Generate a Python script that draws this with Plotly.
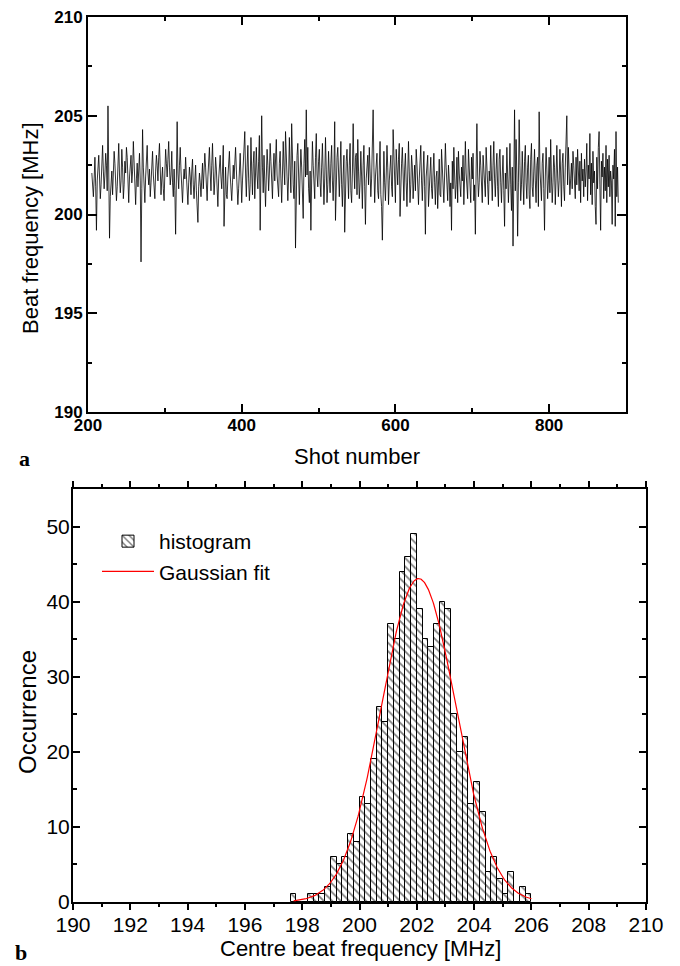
import numpy as np
import plotly.graph_objects as go

# ---------------- data: panel a (time series) ----------------
shot_start = 205
beat_freq = [
    202.1, 201.6, 200.9, 201.8, 202.9, 201.4, 199.2, 201.7, 202.4, 203.0, 201.9, 200.8, 201.5, 202.6, 203.5, 202.2, 201.3, 202.0, 203.1, 202.5,
    201.2, 205.5, 202.3, 198.8, 200.9, 201.6, 202.2, 201.0, 201.8, 203.2, 202.6, 201.9, 200.7, 201.4, 202.8, 203.6, 202.0, 201.1, 201.7, 203.3,
    202.4, 200.8, 201.5, 202.7, 202.1, 203.4, 202.9, 201.3, 200.6, 201.9, 202.5, 203.0, 201.6, 202.2, 203.7, 202.8, 201.2, 200.5, 201.8, 202.6,
    201.4, 202.0, 203.1, 201.7, 197.6, 201.3, 204.3, 202.4, 201.1, 200.6, 201.9, 202.8, 203.5, 202.1, 201.5, 202.3, 200.9, 201.6, 202.9, 203.2,
    202.0, 201.4, 200.8, 202.2, 203.0, 202.5, 201.7, 202.9, 203.6, 202.3, 201.0, 201.8, 202.4, 201.3, 200.7, 202.1, 203.3, 202.6, 201.9, 202.8,
    203.7, 202.4, 201.5, 202.0, 203.2, 201.6, 200.9, 202.3, 201.2, 199.0, 201.8, 204.7, 202.1, 201.3, 202.5, 203.4, 202.2, 201.4, 200.6, 201.7,
    202.3, 201.8, 202.9, 202.0, 201.1, 200.5, 201.6, 202.4, 201.9, 201.0, 202.2, 202.8, 201.5, 200.8, 201.7, 202.5, 201.2, 200.4, 199.6, 201.4,
    202.1, 201.6, 200.9, 201.8, 202.6, 201.3, 202.0, 203.1, 202.4, 201.5, 200.7, 201.9, 202.7, 203.4, 202.1, 201.2, 202.5, 203.6, 202.2, 201.0,
    201.7, 202.9, 202.3, 201.1, 200.4, 201.8, 202.6, 203.0, 201.9, 201.3, 202.2, 203.5, 199.4, 201.5, 202.4, 201.0, 200.8, 201.9, 202.7, 203.2,
    202.0, 201.4, 200.7, 201.6, 202.5, 201.8, 202.9, 203.4, 202.3, 201.1, 200.5, 201.3, 202.8, 203.1, 201.9, 200.6, 201.7, 202.6, 203.0, 204.2,
    202.1, 200.9, 202.4, 203.5, 201.8, 200.7, 201.5, 203.9, 202.2, 201.0, 202.6, 203.2, 200.8, 201.9, 203.4, 202.0, 201.3, 202.7, 204.0, 199.2,
    202.2, 205.0, 202.4, 201.1, 203.0, 201.6, 200.4, 201.9, 203.3, 202.5, 201.2, 202.1, 203.6, 202.7, 201.4, 200.8, 202.3, 203.1, 201.7, 202.5,
    203.8, 202.0, 201.3, 200.9, 202.6, 203.2, 201.8, 200.6, 202.0, 203.7, 202.4, 201.5, 204.2, 202.8, 201.6, 200.7, 201.9, 203.9, 202.3, 201.1,
    204.6, 202.2, 201.5, 200.8, 202.7, 198.3, 201.9, 203.0, 203.6, 201.7, 200.5, 202.1, 203.3, 202.4, 201.2, 199.8, 202.6, 203.8, 201.9, 205.3,
    202.0, 203.4, 201.3, 200.6, 202.2, 199.2, 201.8, 203.7, 202.5, 201.0, 200.8, 202.9, 204.1, 202.0, 201.4, 202.7, 203.3, 201.6, 200.9, 202.4,
    203.6, 202.1, 200.5, 201.8, 203.9, 202.3, 200.6, 201.5, 203.2, 202.0, 201.1, 202.6, 203.5, 201.7, 200.7, 202.2, 204.7, 199.7, 201.6, 202.9,
    203.4, 201.8, 200.9, 202.3, 203.7, 201.5, 200.4, 202.0, 203.0, 199.1, 201.4, 202.7, 203.3, 201.9, 200.8, 202.5, 203.6, 201.2, 200.6, 202.1,
    204.6, 202.4, 201.3, 202.9, 203.1, 201.0, 203.8, 202.2, 200.8, 201.6, 203.2, 201.9, 200.3, 202.5, 203.5, 201.4, 199.5, 201.8, 202.6, 203.0,
    201.5, 203.4, 202.2, 200.9, 201.8, 203.6, 205.3, 202.4, 200.6, 201.9, 202.8, 203.1, 201.2, 200.8, 202.3, 203.7, 201.0, 200.4, 198.7, 202.6,
    203.2, 201.6, 200.7, 202.0, 203.5, 202.4, 200.5, 201.7, 202.9, 203.0, 201.4, 200.9, 204.3, 202.5, 201.8, 200.6, 203.3, 202.1, 201.5, 202.8,
    203.6, 199.9, 201.9, 202.6, 203.4, 201.1, 200.7, 202.3, 203.1, 201.6, 200.4, 202.0, 203.7, 202.2, 200.6, 201.5, 203.0, 202.4, 200.8, 201.7,
    202.5, 201.2, 203.3, 202.6, 201.0, 200.5, 201.8, 202.9, 203.5, 201.7, 200.7, 202.1, 203.2, 201.4, 199.0, 201.9, 202.7, 203.0, 200.4, 201.6,
    202.3, 202.9, 201.3, 200.8, 202.1, 203.1, 201.6, 200.5, 201.9, 202.2, 200.3, 201.7, 202.8, 201.0, 200.9, 203.3, 202.4, 201.2, 200.6, 202.0,
    203.6, 202.4, 201.1, 200.7, 202.5, 201.8, 200.4, 201.6, 199.2, 202.7, 201.3, 203.4, 202.0, 200.8, 201.5, 202.9, 200.6, 203.2, 202.1, 201.4,
    200.9, 202.4, 201.7, 203.0, 200.5, 201.9, 203.7, 202.1, 201.2, 200.8, 203.3, 202.5, 201.4, 200.6, 202.9, 201.8, 203.1, 200.7, 201.5, 199.0,
    202.3, 204.6, 202.0, 200.9, 201.6, 203.2, 202.5, 201.1, 200.6, 203.0, 202.2, 201.3, 200.9, 203.4, 202.7, 201.5, 200.5, 202.2, 201.7, 203.5,
    201.9, 200.7, 202.5, 203.7, 201.8, 200.9, 202.3, 203.1, 201.4, 200.4, 202.8, 203.3, 201.6, 200.6, 202.0, 203.0, 201.2, 199.4, 202.1, 201.3,
    203.4, 202.2, 200.6, 201.9, 203.6, 201.5, 200.2, 202.4, 198.4, 201.7, 205.3, 201.2, 203.8, 202.0, 198.9, 201.6, 204.8, 202.5, 200.7, 201.5,
    203.2, 201.8, 200.5, 202.7, 203.5, 201.6, 200.8, 202.4, 203.0, 201.0, 200.3, 202.8, 203.6, 201.4, 200.9, 202.2, 203.3, 201.7, 200.6, 202.5,
    202.9, 200.4, 205.2, 202.3, 201.1, 200.7, 202.6, 203.1, 201.3, 199.2, 201.9, 203.4, 202.3, 200.8, 201.7, 202.9, 201.1, 203.8, 201.9, 200.6,
    201.6, 203.0, 202.4, 200.5, 201.8, 203.5, 202.0, 200.9, 201.7, 203.3, 202.1, 200.4, 202.6, 203.1, 201.4, 200.7, 202.4, 203.7, 205.0, 201.5,
    203.4, 202.2, 201.0, 201.8, 202.6, 201.3, 203.2, 202.5, 201.9, 200.8, 202.9, 201.5, 203.3, 202.0, 201.2, 202.7, 200.6, 203.1, 201.7, 202.3,
    200.9, 202.8, 201.4, 202.2, 203.6, 200.7, 202.5, 201.8, 204.1, 201.0, 202.6, 200.5, 203.2, 201.6, 202.2, 200.4, 199.5, 202.9, 201.3, 203.4,
    204.2, 201.5, 199.2, 202.7, 201.9, 203.1, 200.8, 202.4, 201.2, 203.5, 200.6, 202.8, 201.4, 203.0, 200.9, 202.2, 201.7, 199.5, 202.5, 201.8,
    203.3, 199.4, 204.2, 200.9, 202.4, 200.6,
]
shot_number = [shot_start + i for i in range(len(beat_freq))]

# ---------------- data: panel b (histogram) ----------------
hist_bin_left = [
    197.6, 197.8, 198.0, 198.2, 198.4, 198.6, 198.8, 199.0, 199.2, 199.4,
    199.6, 199.8, 200.0, 200.2, 200.4, 200.6, 200.8, 201.0, 201.2, 201.4,
    201.6, 201.8, 202.0, 202.2, 202.4, 202.6, 202.8, 203.0, 203.2, 203.4,
    203.6, 203.8, 204.0, 204.2, 204.4, 204.6, 204.8, 205.0, 205.2, 205.4,
    205.6, 205.8,
]
hist_counts = [
    1, 0, 0, 1, 1, 1, 2, 6, 5, 6,
    9, 8, 14, 13, 19, 26, 24, 37, 35, 44,
    46, 49, 39, 35, 34, 37, 40, 39, 25, 20,
    22, 13, 16, 12, 4, 6, 3, 1, 4, 0,
    2, 1,
]
hist_bin_width = 0.2
fit_x_range = [197.7, 206.0]

# ---------------- derived: Gaussian fitted to the histogram ----------------
centres = np.array(hist_bin_left) + hist_bin_width / 2
counts = np.array(hist_counts, dtype=float)
n_tot = counts.sum()
mu = (centres * counts).sum() / n_tot
sigma = np.sqrt(((centres - mu) ** 2 * counts).sum() / n_tot)
amp = n_tot * hist_bin_width / (sigma * np.sqrt(2 * np.pi))
fit_x = np.linspace(fit_x_range[0], fit_x_range[1], 400)
fit_y = amp * np.exp(-0.5 * ((fit_x - mu) / sigma) ** 2)

# ---------------- figure ----------------
W, H = 680, 966
SANS = "Liberation Sans, Arial, sans-serif"
SERIF = "Liberation Serif, Times New Roman, serif"

fig = go.Figure()
fig.add_trace(go.Scatter(
    x=shot_number, y=beat_freq, mode="lines",
    line=dict(color="black", width=0.8), showlegend=False,
    xaxis="x", yaxis="y",
))
fig.add_trace(go.Bar(
    x=centres, y=hist_counts, width=hist_bin_width, name="histogram",
    marker=dict(color="white", line=dict(color="black", width=1),
                pattern=dict(shape="\\", fgcolor="black", bgcolor="white",
                             size=6, solidity=0.3)),
    xaxis="x2", yaxis="y2",
))
fig.add_trace(go.Scatter(
    x=fit_x, y=fit_y, mode="lines", name="Gaussian fit",
    line=dict(color="#ff0000", width=1.2), xaxis="x2", yaxis="y2",
))


def px_x(a, b):
    return [a / W, b / W]


def px_y(top, bottom):
    return [1 - bottom / H, 1 - top / H]


def ann(text, x, y, size, angle=0, family=SANS):
    return dict(text=text, x=x / W, y=1 - y / H, xref="paper", yref="paper",
                xanchor="center", yanchor="middle", showarrow=False,
                textangle=angle, font=dict(family=family, size=size, color="black"))


axis_common = dict(showline=True, linecolor="black", linewidth=2, mirror="allticks",
                   showgrid=False, zeroline=False, automargin=False,
                   tickcolor="black", tickwidth=1.5)

fig.update_layout(
    width=W, height=H, plot_bgcolor="white", paper_bgcolor="white",
    margin=dict(l=0, r=0, t=0, b=0), bargap=0,
    font=dict(family=SANS, color="black"),
    xaxis=dict(axis_common, domain=px_x(88, 626), anchor="y", range=[200, 900],
               tick0=200, dtick=200, ticks="inside", ticklen=8,
               minor=dict(dtick=100, ticks="inside", ticklen=4, tickcolor="black"),
               tickfont=dict(size=17, weight="bold"), ticklabelstandoff=-3),
    yaxis=dict(axis_common, domain=px_y(17, 412), anchor="x", range=[190, 210],
               tick0=190, dtick=5, ticks="inside", ticklen=9,
               minor=dict(dtick=2.5, ticks="inside", ticklen=4, tickcolor="black"),
               tickfont=dict(size=17, weight="bold"), ticklabelstandoff=0),
    xaxis2=dict(axis_common, domain=px_x(73, 646), anchor="y2", range=[190, 210],
                tick0=190, dtick=2, ticks="outside", ticklen=6,
                minor=dict(dtick=1, ticks="outside", ticklen=3, tickcolor="black"),
                tickfont=dict(size=21), ticklabelstandoff=-3),
    yaxis2=dict(axis_common, domain=px_y(489, 902), anchor="x2", range=[0, 55],
                tick0=0, dtick=10, ticks="inside", ticklen=7,
                minor=dict(dtick=5, ticks="inside", ticklen=4, tickcolor="black"),
                tickfont=dict(size=21), ticklabelstandoff=-3),
    legend=dict(x=97 / W, y=1 - 521 / H, xanchor="left", yanchor="top",
                bgcolor="rgba(0,0,0,0)", font=dict(size=21), itemwidth=52,
                tracegroupgap=0),
    annotations=[
        ann("Shot number", 357, 456, 22),
        ann("Beat frequency [MHz]", 30, 228, 22, angle=-90),
        ann("Centre beat frequency [MHz]", 360, 948, 22),
        ann("Occurrence", 27, 712, 24, angle=-90),
        ann("<b>a</b>", 24, 459, 22, family=SERIF),
        ann("<b>b</b>", 21, 952, 22, family=SERIF),
    ],
)

fig.write_html("out.html", config={"displayModeBar": False},
               post_script="document.body.style.margin='0px';")
